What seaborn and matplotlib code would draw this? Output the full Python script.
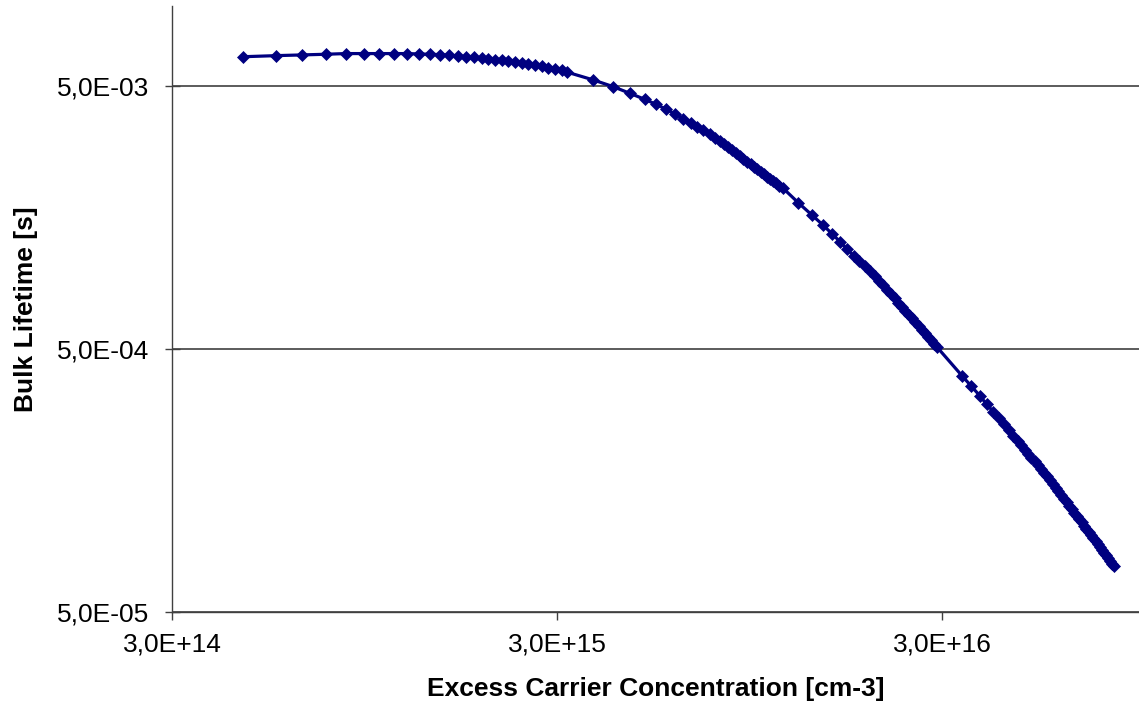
import matplotlib
matplotlib.use("Agg")
import matplotlib.pyplot as plt
import seaborn as sns
from matplotlib.ticker import FixedLocator, FixedFormatter, NullLocator

conc_1 = [4.60e14, 5.58e14, 6.53e14, 7.52e14, 8.48e14, 9.44e14, 1.036e15, 1.129e15, 1.221e15, 1.312e15,
          1.404e15, 1.490e15, 1.576e15, 1.657e15, 1.741e15, 1.826e15, 1.912e15, 1.990e15, 2.071e15, 2.155e15,
          2.242e15, 2.334e15, 2.429e15, 2.527e15, 2.630e15, 2.738e15, 2.848e15, 2.964e15, 3.086e15, 3.179e15]
tau_1 = [6.46e-3, 6.52e-3, 6.56e-3, 6.60e-3, 6.64e-3, 6.64e-3, 6.64e-3, 6.64e-3, 6.64e-3, 6.62e-3,
         6.60e-3, 6.58e-3, 6.54e-3, 6.50e-3, 6.46e-3, 6.43e-3, 6.37e-3, 6.33e-3, 6.30e-3, 6.26e-3,
         6.22e-3, 6.17e-3, 6.11e-3, 6.06e-3, 6.01e-3, 5.94e-3, 5.87e-3, 5.80e-3, 5.74e-3, 5.65e-3]

conc_2 = [3.73e15, 4.20e15, 4.64e15, 5.07e15, 5.42e15, 5.76e15, 6.09e15, 6.39e15, 6.70e15, 6.94e15,
          7.20e15, 7.49e15, 7.72e15, 7.95e15, 8.15e15, 8.35e15, 8.55e15, 8.75e15, 8.95e15, 9.15e15,
          9.35e15, 9.55e15, 9.75e15, 9.95e15, 1.015e16, 1.035e16, 1.055e16, 1.075e16, 1.095e16, 1.115e16,
          1.135e16, 1.161e16]
tau_2 = [5.27e-3, 4.97e-3, 4.69e-3, 4.45e-3, 4.26e-3, 4.08e-3, 3.91e-3, 3.75e-3, 3.62e-3, 3.49e-3,
         3.39e-3, 3.27e-3, 3.17e-3, 3.08e-3, 3.00e-3, 2.92e-3, 2.85e-3, 2.77e-3, 2.71e-3, 2.64e-3,
         2.58e-3, 2.52e-3, 2.47e-3, 2.41e-3, 2.36e-3, 2.31e-3, 2.26e-3, 2.22e-3, 2.17e-3, 2.13e-3,
         2.09e-3, 2.04e-3]

conc_3 = [1.270e16, 1.378e16, 1.469e16, 1.554e16, 1.630e16, 1.697e16, 1.769e16, 1.830e16, 1.893e16, 1.954e16,
          2.010e16, 2.06e16, 2.11e16, 2.16e16, 2.21e16, 2.26e16, 2.31e16, 2.36e16, 2.41e16, 2.46e16,
          2.51e16, 2.56e16, 2.61e16, 2.66e16, 2.71e16, 2.76e16, 2.81e16, 2.86e16, 2.906e16]
tau_3 = [1.80e-3, 1.616e-3, 1.485e-3, 1.372e-3, 1.280e-3, 1.203e-3, 1.131e-3, 1.080e-3, 1.037e-3, 9.93e-4,
         9.48e-4, 9.10e-4, 8.74e-4, 8.40e-4, 8.08e-4, 7.79e-4, 7.50e-4, 7.24e-4, 6.99e-4, 6.75e-4,
         6.53e-4, 6.32e-4, 6.11e-4, 5.92e-4, 5.74e-4, 5.57e-4, 5.40e-4, 5.24e-4, 5.10e-4]

conc_4 = [3.38e16, 3.576e16, 3.77e16, 3.92e16, 4.08e16, 4.22e16, 4.35e16, 4.48e16, 4.60e16, 4.72e16,
          4.82e16, 4.92e16, 5.02e16, 5.12e16, 5.22e16, 5.32e16, 5.42e16, 5.52e16, 5.62e16, 5.72e16,
          5.82e16, 5.92e16, 6.02e16, 6.12e16, 6.22e16, 6.32e16, 6.42e16, 6.52e16, 6.62e16, 6.72e16,
          6.82e16, 6.92e16, 7.02e16, 7.12e16, 7.22e16, 7.32e16, 7.42e16, 7.52e16, 7.62e16, 7.72e16,
          7.82e16, 7.92e16, 8.02e16, 8.12e16, 8.22e16, 8.32e16, 8.41e16]
tau_4 = [3.96e-4, 3.61e-4, 3.31e-4, 3.08e-4, 2.89e-4, 2.73e-4, 2.59e-4, 2.45e-4, 2.34e-4, 2.23e-4,
         2.149e-4, 2.073e-4, 2.001e-4, 1.933e-4, 1.868e-4, 1.806e-4, 1.748e-4, 1.693e-4, 1.640e-4, 1.590e-4,
         1.537e-4, 1.486e-4, 1.438e-4, 1.393e-4, 1.349e-4, 1.308e-4, 1.268e-4, 1.230e-4, 1.194e-4, 1.159e-4,
         1.126e-4, 1.095e-4, 1.064e-4, 1.035e-4, 1.008e-4, 9.81e-5, 9.55e-5, 9.30e-5, 9.06e-5, 8.84e-5,
         8.61e-5, 8.40e-5, 8.20e-5, 8.00e-5, 7.81e-5, 7.63e-5, 7.48e-5]

x_ticks = [3e14, 3e15, 3e16]
x_tick_labels = ["3,0E+14", "3,0E+15", "3,0E+16"]
y_ticks = [5e-5, 5e-4, 5e-3]
y_tick_labels = ["5,0E-05", "5,0E-04", "5,0E-03"]

conc = conc_1 + conc_2 + conc_3 + conc_4
tau = tau_1 + tau_2 + tau_3 + tau_4

sns.set_style("white")
plt.rcParams["font.family"] = ["Liberation Sans", "DejaVu Sans"]
plt.rcParams["text.color"] = "black"
plt.rcParams["axes.labelcolor"] = "black"
plt.rcParams["xtick.color"] = "black"
plt.rcParams["ytick.color"] = "black"

fig = plt.figure(figsize=(11.39, 7.06), dpi=100)
ax = fig.add_axes([172 / 1139, 94 / 706, 1 - 172 / 1139, 606 / 706])

navy = "#000080"
sns.lineplot(x=conc, y=tau, ax=ax, sort=False, estimator=None, color=navy,
             linewidth=2.3, marker="D", markersize=6, markeredgecolor=navy,
             markeredgewidth=0.5)

ax.set_xscale("log")
ax.set_yscale("log")
ax.set_xlim(3e14, 9.75e16)
ax.set_ylim(5e-5, 1.007e-2)

ax.xaxis.set_major_locator(FixedLocator(x_ticks))
ax.xaxis.set_major_formatter(FixedFormatter(x_tick_labels))
ax.yaxis.set_major_locator(FixedLocator(y_ticks))
ax.yaxis.set_major_formatter(FixedFormatter(y_tick_labels))
ax.xaxis.set_minor_locator(NullLocator())
ax.yaxis.set_minor_locator(NullLocator())

ax.yaxis.grid(True, color="#404040", linewidth=1.2)
ax.xaxis.grid(False)

for side in ["top", "right"]:
    ax.spines[side].set_visible(False)
for side in ["left", "bottom"]:
    ax.spines[side].set_color("#404040")
    ax.spines[side].set_linewidth(1.0)

ax.tick_params(axis="x", direction="out", length=5.8, width=1.0, color="#404040",
               pad=9, labelsize=19, bottom=True)
ax.tick_params(axis="y", direction="inout", length=10.8, width=1.0, color="#404040",
               pad=11, labelsize=19, left=True)

ax.set_xlabel("Excess Carrier Concentration [cm-3]", fontsize=19, fontweight="bold", labelpad=15)
ax.set_ylabel("Bulk Lifetime [s]", fontsize=19, fontweight="bold", labelpad=14)

fig.savefig("out.png", dpi=100)
